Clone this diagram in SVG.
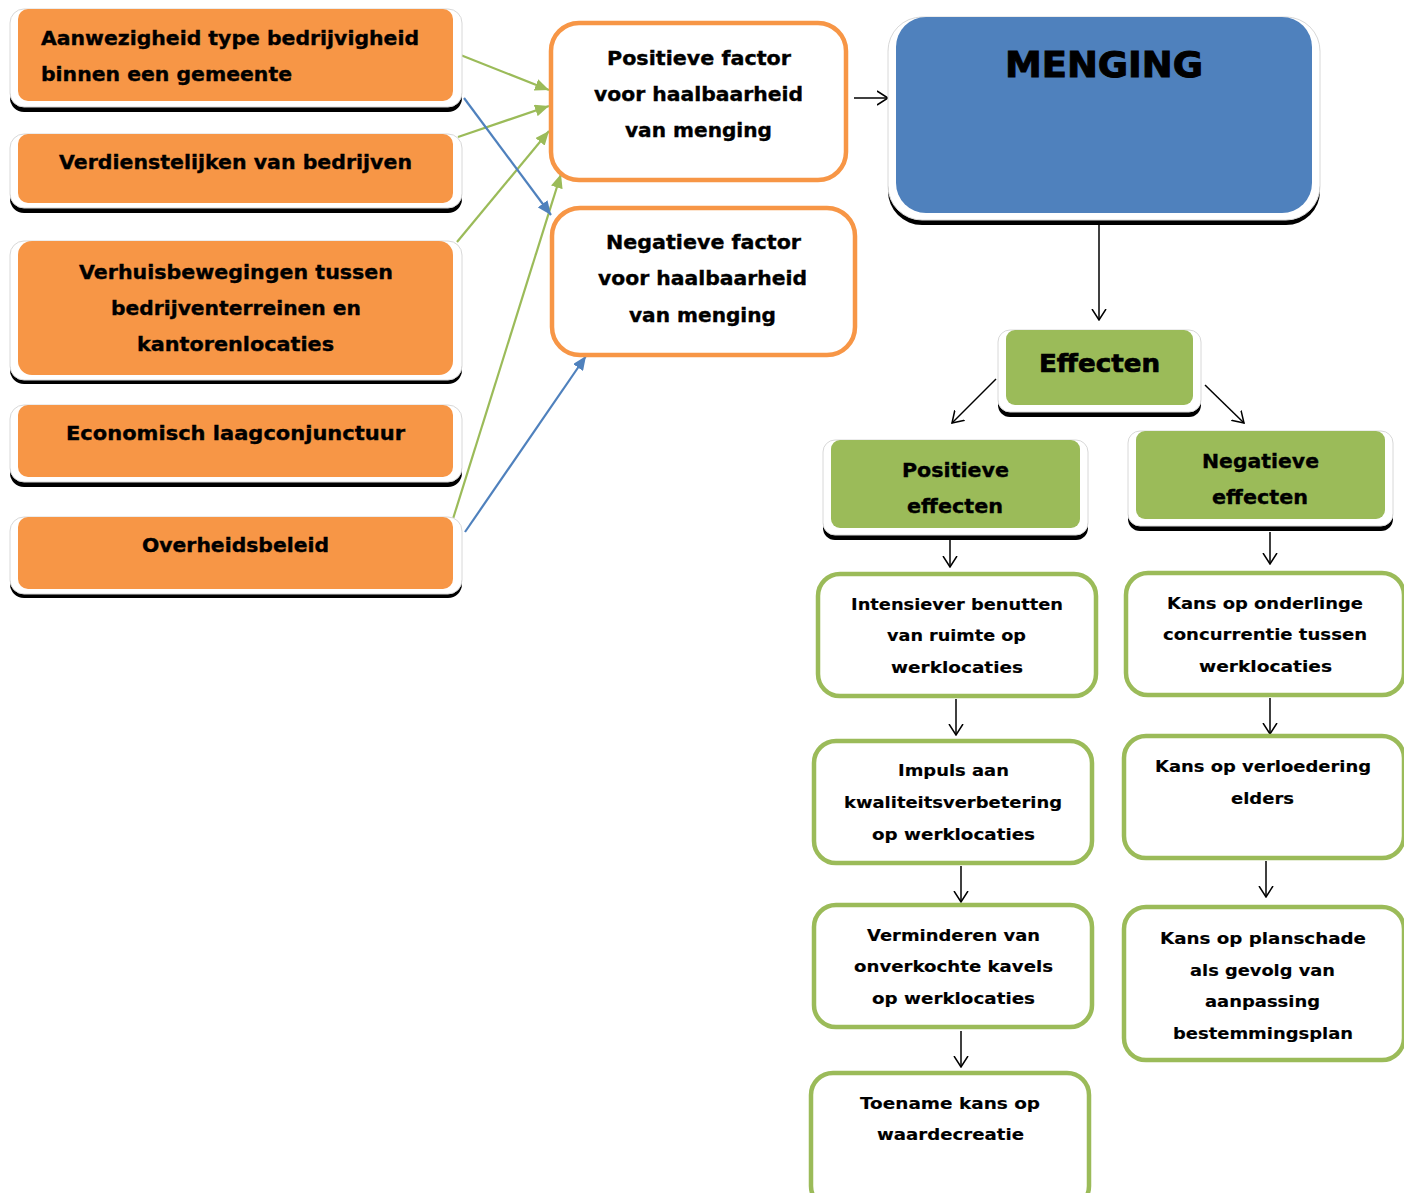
<svg xmlns="http://www.w3.org/2000/svg" width="1404" height="1193" viewBox="0 0 1404 1193">
<style>
text{font-family:"DejaVu Sans","Liberation Sans",sans-serif;font-weight:bold;fill:#000;stroke:#000;stroke-width:0.35;text-anchor:middle}
.o{font-size:19px}
.g{font-size:16.5px;stroke-width:0.15}
.shadow{fill:#000}
.frame{fill:#fff;stroke:#d8d8d8;stroke-width:1}
.orange{fill:#F79646}
.blue{fill:#4F81BD}
.green{fill:#9BBB59}
.ob{fill:#fff;stroke:#F79646;stroke-width:4.5}
.gb{fill:#fff;stroke:#9BBB59;stroke-width:4.5}
.k{stroke:#000;stroke-width:1.5;fill:none;marker-end:url(#open)}
.gl{stroke:#9BBB59;stroke-width:2.2;fill:none;marker-end:url(#gtri)}
.bl{stroke:#4F81BD;stroke-width:2.2;fill:none;marker-end:url(#btri)}
</style>
<defs>
<marker id="open" viewBox="0 0 12 16" refX="11" refY="8" markerWidth="12" markerHeight="16" markerUnits="userSpaceOnUse" orient="auto">
<path d="M0,1 L11,8 L0,15" fill="none" stroke="#000" stroke-width="1.5"/>
</marker>
<marker id="gtri" viewBox="0 0 14 12" refX="14" refY="6" markerWidth="14" markerHeight="12" markerUnits="userSpaceOnUse" orient="auto">
<path d="M0,0 L14,6 L0,12 Z" fill="#9BBB59"/>
</marker>
<marker id="btri" viewBox="0 0 14 12" refX="14" refY="6" markerWidth="14" markerHeight="12" markerUnits="userSpaceOnUse" orient="auto">
<path d="M0,0 L14,6 L0,12 Z" fill="#4F81BD"/>
</marker>
</defs>

<g id="connectors">
<line class="gl" x1="458" y1="54" x2="549" y2="90"/>
<line class="gl" x1="458" y1="137" x2="549" y2="106"/>
<line class="gl" x1="457" y1="242" x2="549" y2="131"/>
<line class="gl" x1="452" y1="522" x2="561" y2="174"/>
<line class="bl" x1="464" y1="98" x2="551" y2="215"/>
<line class="bl" x1="465" y1="532" x2="586" y2="356"/>
<line class="k" x1="854" y1="98" x2="888" y2="98"/>
<line class="k" x1="1099" y1="225" x2="1099" y2="320"/>
<line class="k" x1="996" y1="379" x2="952" y2="423"/>
<line class="k" x1="1205" y1="385" x2="1244" y2="423"/>
<line class="k" x1="950" y1="540" x2="950" y2="567"/>
<line class="k" x1="1270" y1="532" x2="1270" y2="564"/>
<line class="k" x1="956" y1="699" x2="956" y2="735"/>
<line class="k" x1="1270" y1="698" x2="1270" y2="734"/>
<line class="k" x1="961" y1="866" x2="961" y2="902"/>
<line class="k" x1="1266" y1="861" x2="1266" y2="897"/>
<line class="k" x1="961" y1="1031" x2="961" y2="1067"/>
</g>

<g id="n-aanwezigheid">
<rect class="shadow" x="10" y="14" width="452" height="98" rx="14"/>
<rect class="frame" x="10" y="9" width="452" height="98" rx="14"/>
<rect class="orange" x="18" y="9" width="435" height="92" rx="10"/>
<text class="o" x="230" y="45" textLength="378" lengthAdjust="spacingAndGlyphs">Aanwezigheid type bedrijvigheid</text>
<text class="o" x="166.5" y="81" textLength="251" lengthAdjust="spacingAndGlyphs">binnen een gemeente</text>
</g>

<g id="n-verdienstelijken">
<rect class="shadow" x="10" y="139" width="452" height="74" rx="14"/>
<rect class="frame" x="10" y="134" width="452" height="74" rx="14"/>
<rect class="orange" x="18" y="134" width="435" height="69" rx="10"/>
<text class="o" x="235.5" y="169" textLength="353" lengthAdjust="spacingAndGlyphs">Verdienstelijken van bedrijven</text>
</g>

<g id="n-verhuis">
<rect class="shadow" x="10" y="245" width="452" height="139" rx="14"/>
<rect class="frame" x="10" y="241" width="452" height="139" rx="14"/>
<rect class="orange" x="18" y="241" width="435" height="134" rx="14"/>
<text class="o" x="236" y="279" textLength="314" lengthAdjust="spacingAndGlyphs">Verhuisbewegingen tussen</text>
<text class="o" x="236" y="315" textLength="250" lengthAdjust="spacingAndGlyphs">bedrijventerreinen en</text>
<text class="o" x="235.5" y="351" textLength="197" lengthAdjust="spacingAndGlyphs">kantorenlocaties</text>
</g>

<g id="n-economisch">
<rect class="shadow" x="10" y="410" width="452" height="77" rx="14"/>
<rect class="frame" x="10" y="405" width="452" height="77" rx="14"/>
<rect class="orange" x="18" y="405" width="435" height="72" rx="10"/>
<text class="o" x="235.5" y="440" textLength="339" lengthAdjust="spacingAndGlyphs">Economisch laagconjunctuur</text>
</g>

<g id="n-overheid">
<rect class="shadow" x="10" y="521" width="452" height="77" rx="14"/>
<rect class="frame" x="10" y="517" width="452" height="77" rx="14"/>
<rect class="orange" x="18" y="517" width="435" height="72" rx="10"/>
<text class="o" x="235.5" y="552" textLength="187" lengthAdjust="spacingAndGlyphs">Overheidsbeleid</text>
</g>

<g id="n-positieve-factor">
<rect class="ob" x="551" y="23" width="295" height="157" rx="28"/>
<text class="o" x="699" y="65" textLength="184" lengthAdjust="spacingAndGlyphs">Positieve factor</text>
<text class="o" x="698.5" y="101" textLength="209" lengthAdjust="spacingAndGlyphs">voor haalbaarheid</text>
<text class="o" x="698.5" y="137" textLength="147" lengthAdjust="spacingAndGlyphs">van menging</text>
</g>

<g id="n-negatieve-factor">
<rect class="ob" x="552" y="208" width="303" height="147" rx="28"/>
<text class="o" x="703.5" y="249" textLength="195" lengthAdjust="spacingAndGlyphs">Negatieve factor</text>
<text class="o" x="702.5" y="285" textLength="209" lengthAdjust="spacingAndGlyphs">voor haalbaarheid</text>
<text class="o" x="702.5" y="322" textLength="147" lengthAdjust="spacingAndGlyphs">van menging</text>
</g>

<g id="n-menging">
<rect class="shadow" x="888" y="23" width="432" height="202" rx="34"/>
<rect class="frame" x="888" y="17" width="432" height="203" rx="34"/>
<rect class="blue" x="896" y="17" width="416" height="196" rx="30"/>
<text x="1104" y="77" style="font-size:36px;stroke-width:1" textLength="198" lengthAdjust="spacingAndGlyphs">MENGING</text>
</g>

<g id="n-effecten">
<rect class="shadow" x="998" y="335" width="203" height="82" rx="12"/>
<rect class="frame" x="998" y="330" width="203" height="82" rx="12"/>
<rect class="green" x="1006" y="330" width="187" height="75" rx="9"/>
<text x="1099.5" y="372" style="font-size:25px;stroke-width:0.7" textLength="121" lengthAdjust="spacingAndGlyphs">Effecten</text>
</g>

<g id="n-positieve-effecten">
<rect class="shadow" x="823" y="445" width="265" height="95" rx="12"/>
<rect class="frame" x="823" y="440" width="265" height="95" rx="12"/>
<rect class="green" x="831" y="440" width="249" height="88" rx="9"/>
<text class="o" x="955.5" y="477" textLength="107" lengthAdjust="spacingAndGlyphs">Positieve</text>
<text class="o" x="955" y="513" textLength="96" lengthAdjust="spacingAndGlyphs">effecten</text>
</g>

<g id="n-negatieve-effecten">
<rect class="shadow" x="1128" y="436" width="265" height="95" rx="12"/>
<rect class="frame" x="1128" y="431" width="265" height="95" rx="12"/>
<rect class="green" x="1136" y="431" width="249" height="88" rx="9"/>
<text class="o" x="1260.5" y="468" textLength="117" lengthAdjust="spacingAndGlyphs">Negatieve</text>
<text class="o" x="1260" y="504" textLength="96" lengthAdjust="spacingAndGlyphs">effecten</text>
</g>

<g id="n-intensiever">
<rect class="gb" x="818" y="574" width="278" height="122" rx="22"/>
<text class="g" x="957" y="610" textLength="212" lengthAdjust="spacingAndGlyphs">Intensiever benutten</text>
<text class="g" x="956.5" y="641" textLength="139" lengthAdjust="spacingAndGlyphs">van ruimte op</text>
<text class="g" x="957" y="673" textLength="132" lengthAdjust="spacingAndGlyphs">werklocaties</text>
</g>

<g id="n-impuls">
<rect class="gb" x="814" y="741" width="278" height="122" rx="22"/>
<text class="g" x="953.5" y="776" textLength="111" lengthAdjust="spacingAndGlyphs">Impuls aan</text>
<text class="g" x="953" y="808" textLength="218" lengthAdjust="spacingAndGlyphs">kwaliteitsverbetering</text>
<text class="g" x="953.5" y="840" textLength="163" lengthAdjust="spacingAndGlyphs">op werklocaties</text>
</g>

<g id="n-verminderen">
<rect class="gb" x="814" y="905" width="278" height="122" rx="22"/>
<text class="g" x="953.5" y="941" textLength="173" lengthAdjust="spacingAndGlyphs">Verminderen van</text>
<text class="g" x="953.5" y="972" textLength="199" lengthAdjust="spacingAndGlyphs">onverkochte kavels</text>
<text class="g" x="953.5" y="1004" textLength="163" lengthAdjust="spacingAndGlyphs">op werklocaties</text>
</g>

<g id="n-toename">
<rect class="gb" x="811" y="1073" width="278" height="135" rx="22"/>
<text class="g" x="950" y="1109" textLength="180" lengthAdjust="spacingAndGlyphs">Toename kans op</text>
<text class="g" x="950.5" y="1140" textLength="147" lengthAdjust="spacingAndGlyphs">waardecreatie</text>
</g>

<g id="n-concurrentie">
<rect class="gb" x="1126" y="573" width="278" height="122" rx="22"/>
<text class="g" x="1265" y="609" textLength="196" lengthAdjust="spacingAndGlyphs">Kans op onderlinge</text>
<text class="g" x="1265" y="640" textLength="204" lengthAdjust="spacingAndGlyphs">concurrentie tussen</text>
<text class="g" x="1265.5" y="672" textLength="133" lengthAdjust="spacingAndGlyphs">werklocaties</text>
</g>

<g id="n-verloedering">
<rect class="gb" x="1124" y="736" width="280" height="122" rx="22"/>
<text class="g" x="1263" y="772" textLength="216" lengthAdjust="spacingAndGlyphs">Kans op verloedering</text>
<text class="g" x="1262.5" y="804" textLength="63" lengthAdjust="spacingAndGlyphs">elders</text>
</g>

<g id="n-planschade">
<rect class="gb" x="1124" y="907" width="280" height="153" rx="22"/>
<text class="g" x="1263" y="944" textLength="206" lengthAdjust="spacingAndGlyphs">Kans op planschade</text>
<text class="g" x="1262.5" y="976" textLength="145" lengthAdjust="spacingAndGlyphs">als gevolg van</text>
<text class="g" x="1262.5" y="1007" textLength="115" lengthAdjust="spacingAndGlyphs">aanpassing</text>
<text class="g" x="1263" y="1039" textLength="180" lengthAdjust="spacingAndGlyphs">bestemmingsplan</text>
</g>
</svg>
